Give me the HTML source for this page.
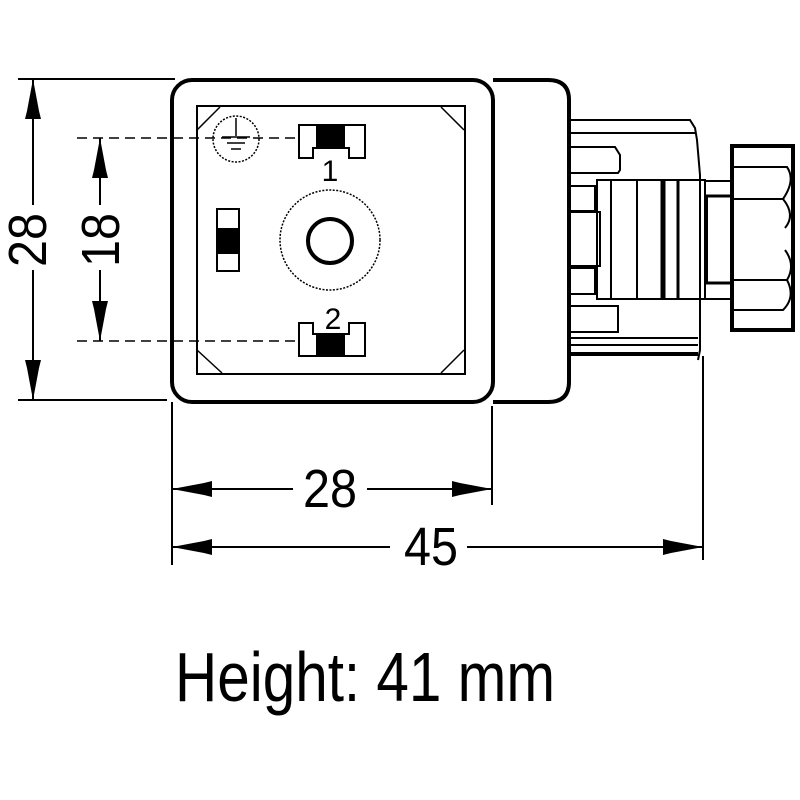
<!DOCTYPE html>
<html><head><style>html,body{margin:0;padding:0;background:#fff}svg{display:block}</style></head>
<body>
<svg width="800" height="800" viewBox="0 0 800 800" xmlns="http://www.w3.org/2000/svg">
<defs>
<marker id="a" viewBox="0 0 40 20" refX="40" refY="10" markerWidth="40" markerHeight="20" markerUnits="userSpaceOnUse" orient="auto-start-reverse">
<path d="M0,2 L8,4 L40,10 L8,16 L0,18 Z" fill="#000"/>
</marker>
</defs>
<g fill="none" stroke="#000">
<path d="M493,80 L548,80 Q569,80 569,100 L569,382 Q569,402 548,402 L493,402" stroke-width="4"/>
<rect x="172" y="80" width="321" height="322" rx="20" stroke-width="4"/>
<rect x="197" y="106" width="268" height="268" stroke-width="2"/>
<line x1="197" y1="130" x2="220" y2="107" stroke-width="1.5"/>
<line x1="441" y1="107" x2="464" y2="130" stroke-width="1.5"/>
<line x1="197" y1="350" x2="222" y2="373" stroke-width="1.5"/>
<line x1="441" y1="373" x2="464" y2="350" stroke-width="1.5"/>
<circle cx="236" cy="139" r="23" stroke-width="1.5" stroke-dasharray="2,1.5"/>
<line x1="236" y1="118" x2="236" y2="136" stroke-width="1.5"/>
<line x1="222" y1="137" x2="250" y2="137" stroke-width="1.5"/>
<line x1="227" y1="143" x2="245" y2="143" stroke-width="1.5"/>
<line x1="231" y1="149" x2="241" y2="149" stroke-width="1.5"/>
<path d="M299,125 L365,125 L365,158 L349,158 L349,148 L313,148 L313,158 L299,158 Z" stroke-width="2"/>
<rect x="316" y="125" width="29" height="22" fill="#000" stroke="none"/>
<path d="M299,356 L365,356 L365,323 L349,323 L349,334 L313,334 L313,323 L299,323 Z" stroke-width="2"/>
<rect x="316" y="335" width="29" height="21" fill="#000" stroke="none"/>
<rect x="217" y="209" width="22" height="62" stroke-width="2"/>
<rect x="217" y="228" width="22" height="26" fill="#000" stroke="none"/>
<circle cx="330" cy="240" r="50" stroke-width="1.5" stroke-dasharray="2,1.5"/>
<circle cx="330" cy="241" r="22" stroke-width="4"/>
<line x1="77" y1="138" x2="299" y2="138" stroke-width="1.5" stroke-dasharray="10,6"/>
<line x1="77" y1="341" x2="299" y2="341" stroke-width="1.5" stroke-dasharray="10,6"/>
<g stroke-width="2">
<path d="M569,120 L690,120 L695,128 L697,140 L700,175 L700,350 L698,360"/>
<line x1="569" y1="133" x2="696" y2="133"/>
<path d="M569,147 L615,147 L620,155 L620,170 L618,173 L569,173"/>
<path d="M569,186 L595,186 L595,211 L569,211"/>
<path d="M569,212 L600,212 L600,266 L569,266"/>
<path d="M569,268 L595,268 L595,294 L569,294"/>
<path d="M569,306 L618,306 L618,332 L569,332"/>
<line x1="569" y1="338" x2="698" y2="338"/>
<line x1="569" y1="345" x2="698" y2="345"/>
<line x1="569" y1="354" x2="698" y2="354" stroke-width="4"/>
<rect x="597" y="180" width="108" height="119"/>
<line x1="611" y1="180" x2="611" y2="299"/>
<line x1="637" y1="180" x2="637" y2="299"/>
<line x1="663" y1="180" x2="663" y2="299" stroke-width="5"/>
<line x1="678" y1="180" x2="678" y2="299" stroke-width="3"/>
<path d="M705,196 L707,196 L707,283 L705,283"/>
<line x1="705" y1="181" x2="732" y2="181"/>
<line x1="705" y1="196" x2="732" y2="196" stroke-width="3"/>
<line x1="705" y1="283" x2="732" y2="283" stroke-width="3"/>
<line x1="705" y1="299" x2="732" y2="299"/>
<rect x="732" y="146" width="61" height="184" stroke-width="4"/>
<path d="M732,167 L787,167 Q796,180 783,199 L732,199"/>
<path d="M783,199 Q796,215 785,228"/>
<path d="M732,280 L787,280 Q796,297 783,310 L732,310"/>
<path d="M785,250 Q796,265 787,280"/>
</g>
<g stroke-width="2">
<line x1="18" y1="79" x2="175" y2="79"/>
<line x1="18" y1="400" x2="167" y2="400"/>
<line x1="33" y1="79" x2="33" y2="205" marker-start="url(#a)"/>
<line x1="33" y1="270" x2="33" y2="400" marker-end="url(#a)"/>
<line x1="100" y1="138" x2="100" y2="205" marker-start="url(#a)"/>
<line x1="100" y1="270" x2="100" y2="341" marker-end="url(#a)"/>
<line x1="172" y1="402" x2="172" y2="565"/>
<line x1="492" y1="406" x2="492" y2="505"/>
<line x1="703" y1="356" x2="703" y2="560"/>
<line x1="172" y1="489" x2="293" y2="489" marker-start="url(#a)"/>
<line x1="367" y1="489" x2="492" y2="489" marker-end="url(#a)"/>
<line x1="172" y1="547" x2="390" y2="547" marker-start="url(#a)"/>
<line x1="467" y1="547" x2="703" y2="547" marker-end="url(#a)"/>
</g>
</g>
<g font-family="Liberation Sans, sans-serif" fill="#000">
<text x="330" y="181" font-size="30" text-anchor="middle">1</text>
<text x="333" y="329" font-size="30" text-anchor="middle">2</text>
<text transform="translate(46,240) rotate(-90)" font-size="54" text-anchor="middle" textLength="54" lengthAdjust="spacingAndGlyphs">28</text>
<text transform="translate(119,240) rotate(-90)" font-size="54" text-anchor="middle" textLength="54" lengthAdjust="spacingAndGlyphs">18</text>
<text x="330" y="507" font-size="54" text-anchor="middle" textLength="54" lengthAdjust="spacingAndGlyphs">28</text>
<text x="431" y="565" font-size="54" text-anchor="middle" textLength="54" lengthAdjust="spacingAndGlyphs">45</text>
<text x="175" y="701" font-size="70" textLength="380" lengthAdjust="spacingAndGlyphs">Height: 41 mm</text>
</g>
</svg>
</body></html>
